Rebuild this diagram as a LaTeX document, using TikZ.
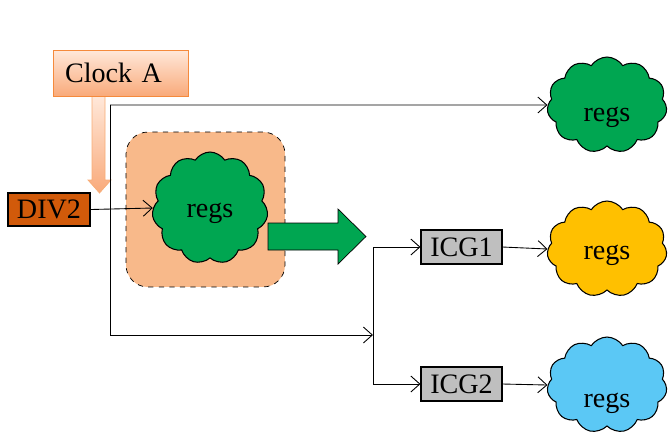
\documentclass[tikz,border=0pt]{standalone}
\usepackage{fontspec}
\setmainfont{Liberation Serif}
\usetikzlibrary{shapes.symbols,arrows.meta,shadows}
\definecolor{regsgreen}{RGB}{0,166,81}
\definecolor{regsyellow}{RGB}{255,192,0}
\definecolor{regsblue}{RGB}{91,200,245}
\definecolor{divorange}{RGB}{209,90,10}
\definecolor{clkline}{RGB}{245,138,60}
\definecolor{clktop}{RGB}{255,232,218}
\definecolor{clkbot}{RGB}{249,170,122}
\definecolor{grppeach}{RGB}{248,185,138}
\tikzset{
  regs/.style={cloud,cloud puffs=11,cloud puff arc=115,cloud ignores aspect,draw=black,semithick,
    minimum width=2.4cm,minimum height=1.92cm,inner sep=0pt,
    label={[yshift=-#1]center:regs}},
  gatebox/.style={draw=black,semithick,fill=gray!50,minimum width=1.62cm,minimum height=0.68cm,inner sep=0pt},
  conn/.style={draw=black,line width=0.5pt},
  tip/.style={conn,-{Straight Barb[length=1.8mm,width=3.2mm]}}
}
\begin{document}
\begin{tikzpicture}[x=0.02cm,y=-0.02cm,font=\fontsize{16}{19}\selectfont]
\useasboundingbox (0,0) rectangle (672,441);
% clock source and its block arrow
\shade[top color=clktop,bottom color=clkbot,draw=clkline!70] (92,96)--(92,180)--(88,180)--(99.5,193)--(111,180)--(105,180)--(105,96)--cycle;
\node[draw=clkline,top color=clktop,bottom color=clkbot,drop shadow={opacity=0.2,shadow xshift=0.6pt,shadow yshift=-0.8pt},
  minimum width=2.7cm,minimum height=0.92cm,inner xsep=0.24cm,text width=2.22cm,align=left] (clk) at (120.5,73) {Clock A};
\node[draw=black,semithick,fill=divorange,minimum width=1.64cm,minimum height=0.66cm,inner sep=0pt] (div) at (49,209.5) {DIV2};
% divided domain
\node[draw=black,thin,dashed,fill=grppeach,rounded corners=0.44cm,minimum width=3.18cm,minimum height=3.1cm] (grp) at (205.5,209.5) {};
\filldraw[fill=regsgreen,draw=black,thin] (268,223)--(338,223)--(338,209)--(366,236.5)--(338,264)--(338,250)--(268,250)--cycle;
\node[regs=3pt,fill=regsgreen,minimum width=2.32cm,minimum height=2.24cm] (rg) at (210,208) {};
% leaf registers and gates
\node[regs=7pt,fill=regsgreen] (rtop) at (607,105) {};
\node[regs=3.4pt,fill=regsyellow] (ryel) at (607,249) {};
\node[regs=10.5pt,fill=regsblue] (rblu) at (607,385) {};
\node[gatebox] (icg1) at (461.5,247) {ICG1};
\node[gatebox] (icg2) at (461.5,384) {ICG2};
\coordinate (tl) at (110,105);
\coordinate (bl) at (110,335);
\coordinate (br) at (373,335);
\coordinate (t1) at (373,247);
\coordinate (t2) at (373,384);
% clock wiring
\draw[tip] (div.east) -- (rg.west);
\draw[conn] (tl) -- (bl);
\draw[tip] (tl) -- (rtop.west);
\draw[tip] (bl) -- (br);
\draw[conn] (t1) -- (t2);
\draw[tip] (t1) -- (icg1.west);
\draw[tip] (t2) -- (icg2.west);
\draw[tip] (icg1.east) -- (ryel.west);
\draw[tip] (icg2.east) -- (rblu.west);
\end{tikzpicture}
\end{document}
